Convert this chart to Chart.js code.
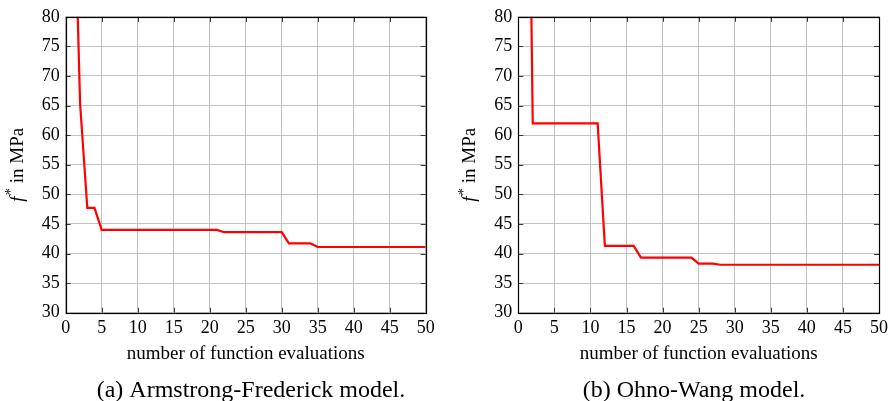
<!DOCTYPE html>
<html>
<head>
<meta charset="utf-8">
<script src="https://cdn.jsdelivr.net/npm/chart.js@4/dist/chart.umd.min.js"></script>
<style>
  html, body { margin: 0; padding: 0; background: #fff; }
  #wrap { position: relative; width: 893px; height: 401px; overflow: hidden; }
  .panel { position: absolute; top: 0; height: 401px; }
  canvas { display: block; }
</style>
</head>
<body>
<div id="wrap">
  <div class="panel" style="left:0;width:446px"><canvas id="af" width="446" height="401"></canvas></div>
  <div class="panel" style="left:446px;width:447px"><canvas id="ow" width="447" height="401"></canvas></div>
</div>
<script>
// Best objective value found so far, at the evaluations where it changes.
const evalsAF = [1, 2, 3, 4, 5, 21, 22, 30, 31, 34, 35, 50];
const bestAF  = [110, 65.3, 47.7, 47.7, 44.0, 44.0, 43.6, 43.6, 41.7, 41.7, 41.1, 41.1];

const evalsOW = [1, 2, 11, 12, 16, 17, 24, 25, 27, 28, 50];
const bestOW  = [160, 62.0, 62.0, 41.3, 41.3, 39.3, 39.3, 38.3, 38.3, 38.1, 38.1];

const xTicks = [0, 5, 10, 15, 20, 25, 30, 35, 40, 45, 50];
const yTicks = [30, 35, 40, 45, 50, 55, 60, 65, 70, 75, 80];

const xTitle = 'number of function evaluations';
const yTitleParts = ['f', '*', ' in MPa'];
const captionAF = '(a) Armstrong-Frederick model.';
const captionOW = '(b) Ohno-Wang model.';

const SERIF = '"Liberation Serif", "Times New Roman", serif';

// Box around the plot area, inward tick marks, rotated y label and caption.
const decorPlugin = {
  id: 'decor',
  afterDatasetsDraw(chart, args, opts) {
    const { ctx, chartArea: a, scales: { x, y } } = chart;
    ctx.save();
    ctx.strokeStyle = '#3a3a3a';
    ctx.lineWidth = 1;
    const L = 5;
    ctx.beginPath();
    xTicks.forEach(v => {
      const px = Math.round(x.getPixelForValue(v)) + 0.5;
      ctx.moveTo(px, a.bottom); ctx.lineTo(px, a.bottom - L);
      ctx.moveTo(px, a.top); ctx.lineTo(px, a.top + L);
    });
    yTicks.forEach(v => {
      const py = Math.round(y.getPixelForValue(v)) + 0.5;
      ctx.moveTo(a.left, py); ctx.lineTo(a.left + L, py);
      ctx.moveTo(a.right, py); ctx.lineTo(a.right - L, py);
    });
    ctx.stroke();

    ctx.strokeStyle = '#000';
    ctx.lineWidth = 1.2;
    const l = Math.round(a.left) + 0.5, t = Math.round(a.top) + 0.5;
    const r = Math.round(a.right) + 0.5, b = Math.round(a.bottom) + 0.5;
    ctx.strokeRect(l, t, r - l, b - t);

    // y axis label: italic f, superscript star, regular remainder
    const fs = 19;
    const fItalic = `italic ${fs}px ${SERIF}`;
    const fReg = `${fs}px ${SERIF}`;
    const fSup = `${Math.round(fs * 0.72)}px ${SERIF}`;
    ctx.fillStyle = '#000';
    ctx.font = fItalic; const w0 = ctx.measureText(yTitleParts[0]).width + 1.5;
    ctx.font = fSup;    const w1 = ctx.measureText(yTitleParts[1]).width;
    ctx.font = fReg;    const w2 = ctx.measureText(yTitleParts[2]).width;
    const total = w0 + w1 + w2;
    ctx.translate(a.left - opts.yTitleOffset, (a.top + a.bottom) / 2);
    ctx.rotate(-Math.PI / 2);
    ctx.textBaseline = 'middle';
    ctx.textAlign = 'left';
    let cx = -total / 2;
    ctx.font = fItalic; ctx.fillText(yTitleParts[0], cx, 0); cx += w0;
    ctx.font = fSup;    ctx.fillText(yTitleParts[1], cx, -6); cx += w1;
    ctx.font = fReg;    ctx.fillText(yTitleParts[2], cx, 0);
    ctx.restore();

    ctx.save();
    ctx.fillStyle = '#000';
    ctx.font = `24px ${SERIF}`;
    ctx.textAlign = 'center';
    ctx.textBaseline = 'alphabetic';
    ctx.fillText(opts.caption, opts.captionX, opts.captionY);
    ctx.restore();
  }
};

function makeChart(id, evals, best, plotLeft, rightPad, caption, captionX) {
  const points = evals.map((e, i) => ({ x: e, y: best[i] }));
  return new Chart(document.getElementById(id), {
    type: 'line',
    data: {
      datasets: [{
        data: points,
        borderColor: '#ff0000',
        borderWidth: 2.2,
        pointRadius: 0,
        tension: 0,
        fill: false
      }]
    },
    options: {
      responsive: false,
      animation: false,
      layout: { padding: { left: 0, top: 12.7, right: rightPad, bottom: 30 } },
      plugins: {
        legend: { display: false },
        tooltip: { enabled: false },
        decor: { caption, captionX, captionY: 396.5, yTitleOffset: 48 }
      },
      scales: {
        x: {
          type: 'linear',
          min: 0, max: 50,
          afterBuildTicks: s => { s.ticks = xTicks.map(v => ({ value: v })); },
          afterFit: s => { s.height = 58.3; },
          grid: { color: '#c2c2c2', lineWidth: 1, drawTicks: false },
          border: { display: false },
          ticks: { color: '#000', font: { family: SERIF, size: 18 }, padding: 5, maxRotation: 0 },
          title: {
            display: true, text: xTitle, color: '#000',
            font: { family: SERIF, size: 19 }, padding: { top: 0, bottom: 6 }
          }
        },
        y: {
          type: 'linear',
          min: 30, max: 80,
          afterBuildTicks: s => { s.ticks = yTicks.map(v => ({ value: v })); },
          afterFit: s => { s.width = plotLeft; },
          grid: { color: '#c2c2c2', lineWidth: 1, drawTicks: false },
          border: { display: false },
          ticks: { color: '#000', font: { family: SERIF, size: 18 }, padding: 6 }
        }
      }
    },
    plugins: [decorPlugin]
  });
}

makeChart('af', evalsAF, bestAF, 65.7, 20.3, captionAF, 251);
makeChart('ow', evalsOW, bestOW, 72.3, 14, captionOW, 694 - 446);
</script>
</body>
</html>
